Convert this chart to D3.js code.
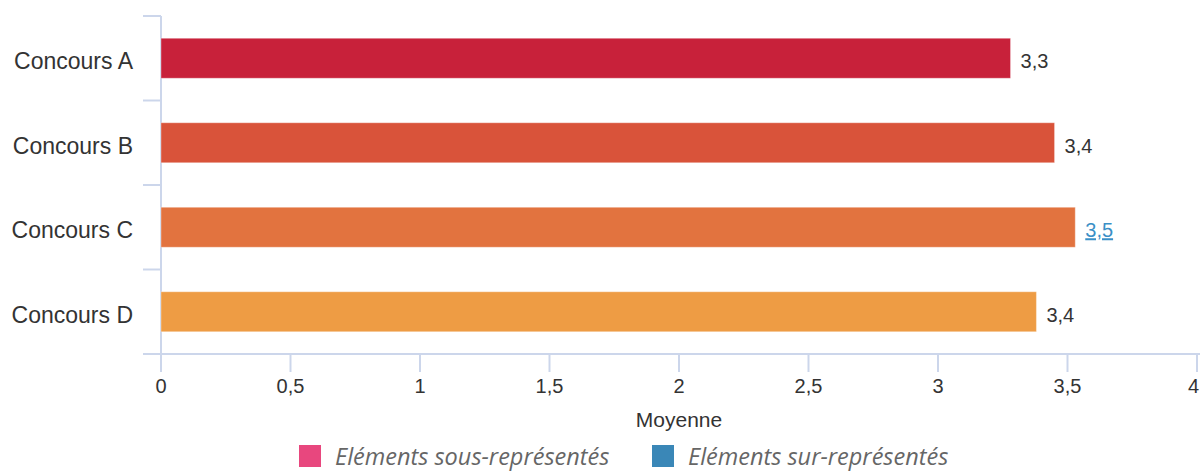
<!DOCTYPE html>
<html>
<head>
<meta charset="utf-8">
<script src="https://cdn.jsdelivr.net/npm/d3@7"></script>
<style>
  html, body { margin: 0; padding: 0; background: #fff; }
  #chart { width: 1200px; height: 472px; overflow: hidden; }
</style>
</head>
<body>
<div id="chart"></div>
<script>
const categories = ['Concours A', 'Concours B', 'Concours C', 'Concours D'];
const moyennes = [3.28, 3.45, 3.53, 3.38];
const valueLabels = ['3,3', '3,4', '3,5', '3,4'];
const barColors = ['#c8213a', '#d9533a', '#e2733f', '#ee9c44'];
const xTicks = [0, 0.5, 1, 1.5, 2, 2.5, 3, 3.5, 4];
const legendItems = ['Eléments sous-représentés', 'Eléments sur-représentés'];
const legendColors = ['#e8477e', '#3a87b7'];

const data = categories.map((c, i) => ({ name: c, value: moyennes[i], label: valueLabels[i], color: barColors[i] }));

const margin = {top: 16, right: 3, bottom: 118, left: 161};
const W = 1200, H = 472;
const width = W - margin.left - margin.right;
const height = H - margin.top - margin.bottom;
const axisColor = '#ccd6eb';

const svg = d3.select('#chart').append('svg')
  .attr('width', W)
  .attr('height', H);

const g = svg.append('g')
  .attr('transform', `translate(${margin.left}, ${margin.top})`);

const xScale = d3.scaleLinear().domain([0, 4]).range([0, width]);
const yScale = d3.scaleBand().domain(categories).range([0, height]).paddingInner(0);
const barH = 40;

// category ticks sit between bands
const yBounds = categories.map(c => yScale(c)).concat([height]);
g.append('g').selectAll('line')
  .data(yBounds)
  .join('line')
    .attr('x1', -18).attr('x2', 0)
    .attr('y1', d => d).attr('y2', d => d)
    .attr('stroke', axisColor).attr('stroke-width', 2);

g.append('line')
  .attr('x1', 0).attr('x2', 0).attr('y1', 0).attr('y2', height)
  .attr('stroke', axisColor).attr('stroke-width', 2);

g.append('g').selectAll('text')
  .data(categories)
  .join('text')
    .attr('x', -28)
    .attr('y', d => yScale(d) + yScale.bandwidth() / 2 + 11)
    .attr('text-anchor', 'end')
    .attr('font-family', '"Liberation Sans", Arial, sans-serif')
    .attr('font-size', 23)
    .attr('fill', '#333')
    .text(d => d);

// x axis
g.append('line')
  .attr('x1', 0).attr('x2', width + margin.right).attr('y1', height).attr('y2', height)
  .attr('stroke', axisColor).attr('stroke-width', 2);

g.append('g').selectAll('line')
  .data(xTicks)
  .join('line')
    .attr('x1', d => xScale(d)).attr('x2', d => xScale(d))
    .attr('y1', height).attr('y2', height + 18)
    .attr('stroke', axisColor).attr('stroke-width', 2);

const fmt = d => String(d).replace('.', ',');
g.append('g').selectAll('text')
  .data(xTicks)
  .join('text')
    .attr('x', d => d === 4 ? width + margin.right - 1 : xScale(d))
    .attr('y', height + 39)
    .attr('text-anchor', d => d === 4 ? 'end' : 'middle')
    .attr('font-family', '"Liberation Sans", Arial, sans-serif')
    .attr('font-size', 20)
    .attr('fill', '#333')
    .text(fmt);

g.append('text')
  .attr('x', xScale(2))
  .attr('y', height + 73)
  .attr('text-anchor', 'middle')
  .attr('font-family', '"Liberation Sans", Arial, sans-serif')
  .attr('font-size', 21)
  .attr('fill', '#333')
  .text('Moyenne');

// bars
g.append('g').selectAll('rect')
  .data(data)
  .join('rect')
    .attr('x', 0)
    .attr('y', d => yScale(d.name) + (yScale.bandwidth() - barH) / 2)
    .attr('width', d => xScale(d.value))
    .attr('height', barH)
    .attr('fill', d => d.color)
    .attr('stroke', '#fff')
    .attr('stroke-opacity', 0.35)
    .attr('stroke-width', 1);

g.append('g').selectAll('text')
  .data(data)
  .join('text')
    .attr('x', d => xScale(d.value) + 10)
    .attr('y', d => yScale(d.name) + yScale.bandwidth() / 2 + 10)
    .attr('font-family', '"Liberation Sans", Arial, sans-serif')
    .attr('font-size', 20)
    .attr('fill', d => d.name === 'Concours C' ? '#3a8fc6' : '#333')
    .attr('text-decoration', d => d.name === 'Concours C' ? 'underline' : null)
    .text(d => d.label);

// legend (nudged up a little so the descenders stay inside the frame)
const legend = svg.append('g').attr('transform', 'translate(0, 445)');
const legendX = [299, 652];
legendItems.forEach((t, i) => {
  legend.append('rect')
    .attr('x', legendX[i]).attr('y', 0)
    .attr('width', 22).attr('height', 22)
    .attr('fill', legendColors[i]);
  legend.append('text')
    .attr('x', legendX[i] + 36)
    .attr('y', 20)
    .attr('font-family', '"Open Sans", sans-serif')
    .attr('font-style', 'italic')
    .attr('font-size', 23.5)
    .attr('fill', '#666')
    .text(t);
});
</script>
</body>
</html>
